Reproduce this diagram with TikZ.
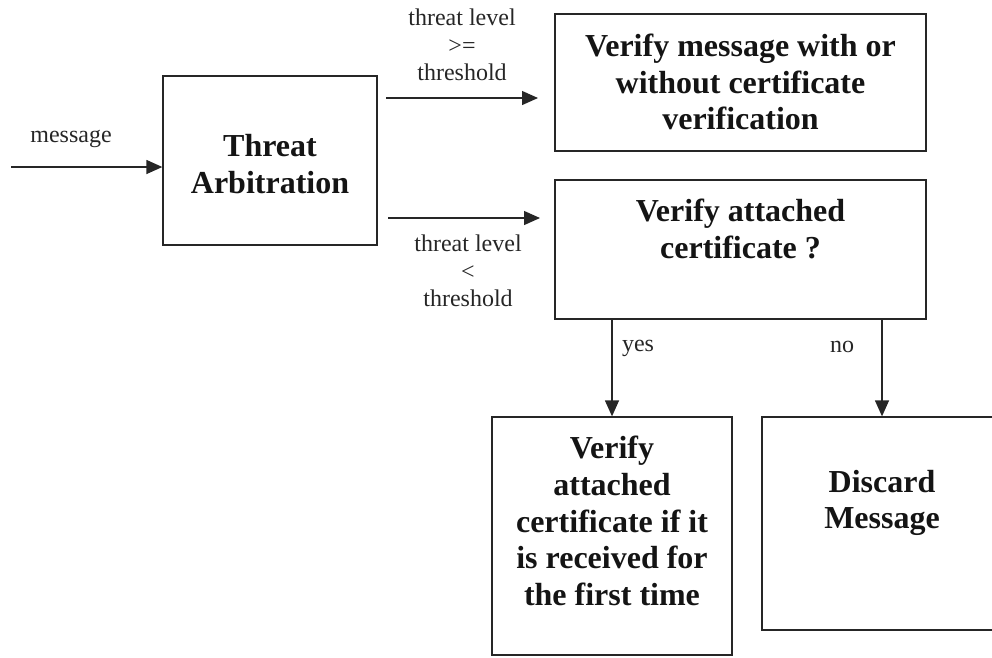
\documentclass[tikz,border=0pt]{standalone}
\usepackage{fontspec}
\setmainfont{Liberation Serif}
\usetikzlibrary{arrows.meta}

\begin{document}
\begin{tikzpicture}[x=1pt,y=-1pt,
  box/.style={draw=black!85, line width=1.3pt, rectangle, inner sep=0pt},
  boxtext/.style={align=center, inner sep=0pt,
    font=\bfseries\fontsize{32}{36.8}\selectfont, text=black!92},
  lbl/.style={align=center, inner sep=0pt,
    font=\fontsize{24}{27.5}\selectfont, text=black!85},
  flow/.style={draw=black!85, line width=1.3pt,
    -{Triangle[length=16pt,width=14pt]}}]

\useasboundingbox (0,0) rectangle (992,657);
\clip (0,0) rectangle (992,657);

% boxes
\node[box, minimum width=214pt, minimum height=169pt] (arb)    at (270,160.5) {};
\node[box, minimum width=371pt, minimum height=137pt] (plain)  at (740.5,82.5) {};
\node[box, minimum width=371pt, minimum height=139pt] (ask)    at (740.5,249.5) {};
\node[box, minimum width=240pt, minimum height=238pt] (first)  at (612,536) {};
\node[box, minimum width=240pt, minimum height=213pt] (drop)   at (882,523.5) {};

% box texts
\node[boxtext] (tarb)   at (270,164) {Threat\\Arbitration};
\node[boxtext] (tplain) at (740.5,82) {Verify message with or\\without certificate\\verification};
\node[boxtext] (task)   at (740.5,229) {Verify attached\\certificate ?};
\node[boxtext] (tfirst) at (612,521) {Verify\\attached\\certificate if it\\is received for\\the first time};
\node[boxtext] (tdrop)  at (882,503) {Discard\\Message};

% free ends of connectors
\coordinate (in)  at (11,167);
\coordinate (hi)  at (386,98);
\coordinate (lo)  at (388,218);
\coordinate (hiE) at (538,98);
\coordinate (loE) at (540,218);

% connectors
\draw[flow] (in) -- (in -| arb.west);
\draw[flow] (hi) -- (hiE);
\draw[flow] (lo) -- (loE);
\draw[flow] (ask.south -| first.north) -- (first.north);
\draw[flow] (ask.south -| drop.north) -- (drop.north);

% labels
\node[lbl] (lmsg) at (71,139) {message};
\node[lbl] (lhi)  at (462,45) {threat level\\>=\\threshold};
\node[lbl] (llo)  at (468,271) {threat level\\<\\threshold};
\node[lbl] (lyes) at (638,348) {yes};
\node[lbl] (lno)  at (842,347) {no};
\end{tikzpicture}
\end{document}
